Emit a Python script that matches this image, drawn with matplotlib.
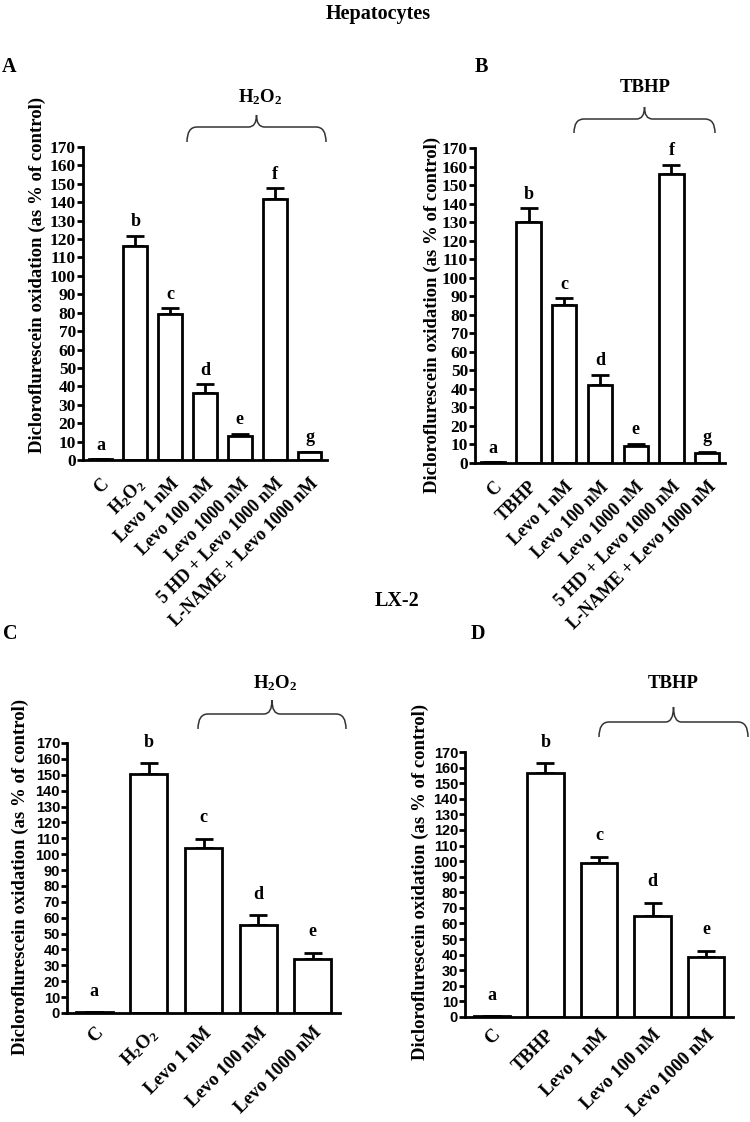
import numpy as np
import matplotlib
matplotlib.use("Agg")
import matplotlib.pyplot as plt
from matplotlib.path import Path
from matplotlib.patches import PathPatch

plt.rcParams['font.family'] = ['Liberation Serif', 'DejaVu Serif']
plt.rcParams['font.weight'] = 'bold'
plt.rcParams['mathtext.default'] = 'regular'

W, H = 750, 1122

# --- donnees ---
hep_h2o2_labels = ['C', 'H$_2$O$_2$', 'Levo 1 nM', 'Levo 100 nM', 'Levo 1000 nM',
                   '5 HD + Levo 1000 nM', 'L-NAME + Levo 1000 nM']
hep_h2o2_vals = [0.5, 116.4, 79.3, 36.3, 13.0, 141.6, 4.2]
hep_h2o2_err = [0, 5.3, 3.0, 4.8, 1.1, 6.0, 0.3]

hep_tbhp_labels = ['C', 'TBHP', 'Levo 1 nM', 'Levo 100 nM', 'Levo 1000 nM',
                   '5 HD + Levo 1000 nM', 'L-NAME + Levo 1000 nM']
hep_tbhp_vals = [0.5, 130.2, 85.1, 42.1, 9.3, 155.8, 5.2]
hep_tbhp_err = [0, 7.2, 3.8, 5.6, 1.0, 5.0, 0.9]

hep_letters = ['a', 'b', 'c', 'd', 'e', 'f', 'g']

lx2_h2o2_labels = ['C', 'H$_2$O$_2$', 'Levo 1 nM', 'Levo 100 nM', 'Levo 1000 nM']
lx2_h2o2_vals = [0.5, 150.5, 103.7, 55.4, 34.2]
lx2_h2o2_err = [0, 6.7, 5.9, 6.3, 3.6]

lx2_tbhp_labels = ['C', 'TBHP', 'Levo 1 nM', 'Levo 100 nM', 'Levo 1000 nM']
lx2_tbhp_vals = [0.5, 156.3, 98.6, 65.0, 38.5]
lx2_tbhp_err = [0, 6.4, 4.2, 8.3, 4.0]

lx2_letters = ['a', 'b', 'c', 'd', 'e']

ylab = 'Dicloroflurescein oxidation (as % of control)'


def fx(x):
    return x / W


def fy(y):
    return 1 - y / H


def panel(fig, box, labels, vals, errs, letters, tick_font, tick_size, xlab_size, let_off, xpad):
    l, t, r, b = box
    ax = fig.add_axes([fx(l), fy(b), fx(r) - fx(l), fy(t) - fy(b)])
    x = np.arange(len(vals))
    ax.bar(x, vals, width=0.68, color='white', edgecolor='black', linewidth=2, zorder=2)
    up = np.array(errs)
    ax.errorbar(x, vals, yerr=[np.zeros_like(up), up], fmt='none', ecolor='black',
                elinewidth=2, capsize=6.5, capthick=2, zorder=1)
    for xi, v, e, s in zip(x, vals, errs, letters):
        ax.annotate(s, (xi, v + e), xytext=(0, let_off), textcoords='offset points',
                    ha='center', va='bottom', fontsize=13, fontweight='bold')
    ax.set_xlim(-0.5, len(vals) - 0.5)
    ax.set_ylim(0, 170)
    ax.set_yticks(np.arange(0, 171, 10))
    ax.set_xticks(x)
    ax.set_xticklabels(labels, rotation=45, ha='right', rotation_mode='anchor',
                       fontsize=xlab_size, fontweight='bold')
    for lab in ax.get_yticklabels():
        lab.set_family(tick_font)
        lab.set_fontsize(tick_size)
        lab.set_fontweight('bold')
    ax.spines['top'].set_visible(False)
    ax.spines['right'].set_visible(False)
    ax.spines['left'].set_linewidth(2)
    ax.spines['bottom'].set_linewidth(2)
    ax.tick_params(axis='y', direction='out', length=4, width=2, pad=1)
    ax.tick_params(axis='x', length=0, pad=xpad)
    return ax


def brace(fig, x0, x1, y_end, y_h, y_tip):
    xc = (x0 + x1) / 2
    r = 10
    rt = 8
    pts = [(x0, y_end), (x0, y_h), (x0 + r, y_h),
           (xc - rt, y_h),
           (xc, y_h), (xc, y_tip),
           (xc, y_h), (xc + rt, y_h),
           (x1 - r, y_h),
           (x1, y_h), (x1, y_end)]
    codes = [Path.MOVETO, Path.CURVE3, Path.CURVE3,
             Path.LINETO,
             Path.CURVE3, Path.CURVE3,
             Path.CURVE3, Path.CURVE3,
             Path.LINETO,
             Path.CURVE3, Path.CURVE3]
    p = Path([(fx(a), fy(b)) for a, b in pts], codes)
    fig.add_artist(PathPatch(p, fc='none', ec='#333333', lw=1.1, transform=fig.transFigure))


fig = plt.figure(figsize=(7.5, 11.22), dpi=100)

panel(fig, (83, 147, 327, 460), hep_h2o2_labels, hep_h2o2_vals, hep_h2o2_err, hep_letters,
      'Liberation Serif', 12.5, 13, 4, 11)
panel(fig, (475, 148, 725, 463), hep_tbhp_labels, hep_tbhp_vals, hep_tbhp_err, hep_letters,
      'Liberation Serif', 12.5, 13, 4, 11)
panel(fig, (67, 743, 340, 1013), lx2_h2o2_labels, lx2_h2o2_vals, lx2_h2o2_err, lx2_letters,
      'Liberation Sans', 10.5, 13.5, 9, 8)
panel(fig, (465, 752, 733, 1017), lx2_tbhp_labels, lx2_tbhp_vals, lx2_tbhp_err, lx2_letters,
      'Liberation Sans', 10.5, 13.5, 9, 7)

# y labels
for x, y in [(37, 275), (432, 315), (20, 877), (420, 882)]:
    fig.text(fx(x), fy(y), ylab, rotation=90, ha='center', va='center', fontsize=13.5,
             fontweight='bold')

# titres et lettres des panneaux
fig.text(fx(378), fy(14), 'Hepatocytes', ha='center', va='center', fontsize=14.5, fontweight='bold')
fig.text(fx(397), fy(601), 'LX-2', ha='center', va='center', fontsize=14.5, fontweight='bold')
for s, x, y in [('A', 9, 67), ('B', 481, 67), ('C', 10, 634), ('D', 478, 634)]:
    fig.text(fx(x), fy(y), s, ha='center', va='center', fontsize=14.5, fontweight='bold')

# accolades
brace(fig, 187, 326, 142, 127, 115)
fig.text(fx(260), fy(97), 'H$_2$O$_2$', ha='center', va='center', fontsize=13.5, fontweight='bold')
brace(fig, 574, 715, 133, 119, 107)
fig.text(fx(645), fy(87), 'TBHP', ha='center', va='center', fontsize=13.5, fontweight='bold')
brace(fig, 198, 346, 729, 714, 700)
fig.text(fx(275), fy(683), 'H$_2$O$_2$', ha='center', va='center', fontsize=13.5, fontweight='bold')
brace(fig, 599, 748, 737, 722, 707)
fig.text(fx(673), fy(683), 'TBHP', ha='center', va='center', fontsize=13.5, fontweight='bold')

fig.savefig('out.png', dpi=100)
